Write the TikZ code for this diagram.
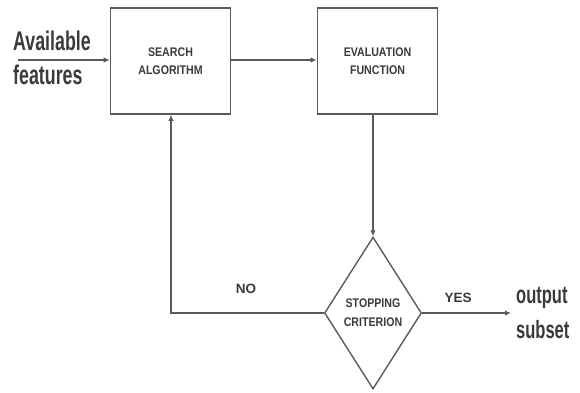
\documentclass[tikz,border=0pt]{standalone}
\usepackage{fontspec}
\setmainfont{Liberation Sans}
\newfontfamily\narrowbig[FakeStretch=0.66]{Liberation Sans}
\newfontfamily\narrowsmall[FakeStretch=0.85]{Liberation Sans}
\usetikzlibrary{shapes.geometric,arrows.meta}
\definecolor{ln}{HTML}{5A5A5A}
\definecolor{tx}{HTML}{3A3A3A}
\begin{document}
\begin{tikzpicture}[x=1pt,y=-1pt,
  box/.style={draw=ln,line width=1.6pt,minimum width=120pt,minimum height=106pt,inner sep=0pt,
    font=\narrowsmall\fontsize{12.5}{18}\selectfont\bfseries,text=tx,align=center},
  dia/.style={draw=ln,line width=1.4pt,diamond,minimum width=97pt,minimum height=152pt,inner sep=0pt,
    font=\narrowsmall\fontsize{12.5}{19}\selectfont\bfseries,text=tx,align=center},
  conn/.style={draw=ln,line width=1.4pt,-{Latex[length=6pt,width=5.5pt]}},
  big/.style={font=\narrowbig\fontsize{27}{34}\selectfont\bfseries,text=tx,align=left,inner sep=0pt},
  lab/.style={font=\fontsize{13.5}{15}\selectfont\bfseries,text=tx}]
\useasboundingbox (0,0) rectangle (580,392);
\node[box] (search) at (170.5,61) {SEARCH\\ALGORITHM};
\node[box] (eval) at (377.5,61) {EVALUATION\\FUNCTION};
\node[dia] (stop) at (373,313) {STOPPING\\CRITERION};
\node[big,anchor=west] (avail) at (13,58) {Available\\features};
\node[big,anchor=west,font=\narrowbig\fontsize{25}{35}\selectfont\bfseries] (out) at (516,313) {output\\subset};
\coordinate (in) at (18,60);
\coordinate (yes) at (511,313);
\coordinate (corner) at (171,313);
\draw[conn] (in) -- (search.west|-in);
\draw[conn] (search.east|-in) -- (eval.west|-in);
\draw[conn] (eval.south-|stop.north) -- (stop.north);
\draw[conn] (stop.east) -- (yes);
\draw[conn] (stop.west) -- (corner) -- (search.south-|corner);
\node[lab] (no) at (246,289) {NO};
\node[lab] (yeslab) at (458,298) {YES};
\end{tikzpicture}
\end{document}
